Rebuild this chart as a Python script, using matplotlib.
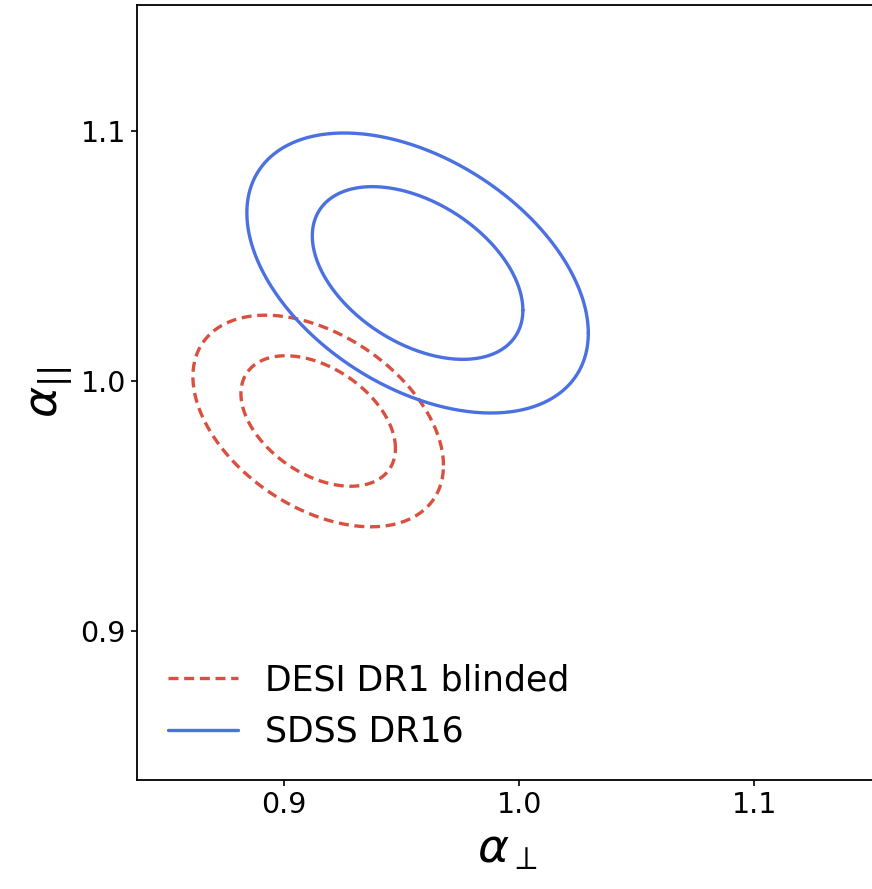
import numpy as np
import matplotlib
matplotlib.use("Agg")
import matplotlib.pyplot as plt

# === Constraints (mean, sigma, correlation) ===
surveys = ["DESI DR1 blinded", "SDSS DR16"]
mean_perp = [0.9145, 0.9568]
mean_par = [0.9840, 1.0432]
sigma_perp = [0.02178, 0.02968]
sigma_par = [0.01729, 0.02288]
rho = [-0.42, -0.43]

colors = ["#d9503f", "#4a70e2"]
styles = ["--", "-"]

# 2D confidence levels (68% and 95%)
levels = [0.68, 0.95]
ticks = [0.9, 1.0, 1.1]
tick_labels = ["0.9", "1.0", "1.1"]

fig = plt.figure(figsize=(8.72, 8.89), dpi=100)
ax = fig.add_axes([137 / 872, 109 / 889, 740 / 872, 775 / 889])

t = np.linspace(0, 2 * np.pi, 400)
for i, name in enumerate(surveys):
    for j, p in enumerate(levels):
        r = np.sqrt(-2 * np.log(1 - p))
        x = mean_perp[i] + r * sigma_perp[i] * np.cos(t)
        y = mean_par[i] + r * sigma_par[i] * (rho[i] * np.cos(t) + np.sqrt(1 - rho[i] ** 2) * np.sin(t))
        line, = ax.plot(x, y, color=colors[i], ls=styles[i], lw=2.4,
                        solid_joinstyle="round", solid_capstyle="round",
                        label=name if j == 0 else None)
        if styles[i] == "--":
            line.set_dashes((3.0, 1.7))

ax.set_xlim(0.8374, 1.1523)
ax.set_ylim(0.8404, 1.1504)
ax.set_xticks(ticks)
ax.set_xticklabels(tick_labels)
ax.set_yticks(ticks)
ax.set_yticklabels(tick_labels)
ax.tick_params(labelsize=20.5, length=4.5, width=1.2)
for s in ax.spines.values():
    s.set_linewidth(1.3)

ax.set_xlabel(r"$\alpha_{\perp}$", fontsize=34, labelpad=6)
ax.set_ylabel(r"$\alpha_{||}$", fontsize=34, labelpad=4)

ax.legend(loc="lower left", frameon=False, fontsize=25)

plt.savefig("out.png", dpi=100)
